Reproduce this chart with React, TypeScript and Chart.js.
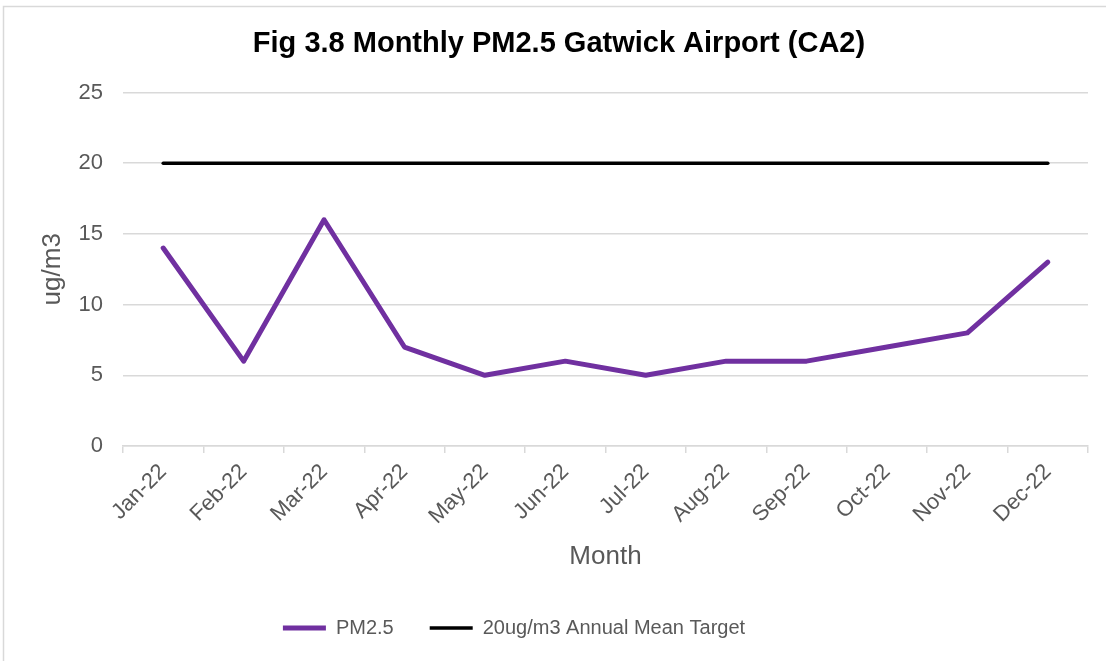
import React, { useEffect, useRef } from "react";
import { Chart, registerables } from "chart.js";

Chart.register(...registerables);

const months = ["Jan-22", "Feb-22", "Mar-22", "Apr-22", "May-22", "Jun-22", "Jul-22", "Aug-22", "Sep-22", "Oct-22", "Nov-22", "Dec-22"];
const pm25 = [14, 6, 16, 7, 5, 6, 5, 6, 6, 7, 8, 13];
const target = [20, 20, 20, 20, 20, 20, 20, 20, 20, 20, 20, 20];
const yTicks = [0, 5, 10, 15, 20, 25];

const FONT = "'Liberation Sans', Arial, sans-serif";
const GREY = "#595959";
const GRID = "#d9d9d9";

const borderPlugin = {
  id: "outerBorder",
  beforeDraw(chart: any) {
    const ctx = chart.ctx;
    ctx.save();
    ctx.fillStyle = "#ffffff";
    ctx.fillRect(0, 0, chart.width, chart.height);
    ctx.strokeStyle = GRID;
    ctx.lineWidth = 1.5;
    ctx.beginPath();
    ctx.moveTo(3.5, chart.height);
    ctx.lineTo(3.5, 6.5);
    ctx.lineTo(chart.width, 6.5);
    ctx.stroke();
    ctx.restore();
  },
};

const legendShift = {
  id: "legendShift",
  afterLayout(chart: any) {
    const lg = chart.legend;
    if (lg) {
      lg.left -= 45;
      lg.right -= 45;
    }
  },
};

export default function App() {
  const ref = useRef<HTMLCanvasElement | null>(null);
  useEffect(() => {
    if (!ref.current) return;
    const chart = new Chart(ref.current, {
      type: "line",
      data: {
        labels: months,
        datasets: [
          {
            label: "PM2.5",
            data: pm25,
            borderColor: "#7030A0",
            backgroundColor: "#7030A0",
            borderWidth: 5,
            pointRadius: 0,
            tension: 0,
            borderCapStyle: "round",
            borderJoinStyle: "round",
          },
          {
            label: "20ug/m3 Annual Mean Target",
            data: target,
            borderColor: "#000000",
            backgroundColor: "#000000",
            borderWidth: 3.5,
            pointRadius: 0,
            tension: 0,
            borderCapStyle: "round",
          },
        ],
      },
      options: {
        animation: false,
        responsive: false,
        maintainAspectRatio: false,
        layout: { padding: { left: 30, right: 18, top: 0, bottom: 13 } },
        plugins: {
          title: {
            display: true,
            text: "Fig 3.8 Monthly PM2.5 Gatwick Airport (CA2)",
            color: "#000000",
            font: { family: FONT, size: 29, weight: "bold", lineHeight: 1.2 },
            padding: { top: 27, bottom: 30.7 },
          },
          legend: {
            display: true,
            position: "bottom",
            labels: {
              usePointStyle: true,
              pointStyle: "line",
              pointStyleWidth: 43,
              padding: 36,
              color: GREY,
              font: { family: FONT, size: 20 },
            },
          },
          tooltip: { enabled: false },
        },
        scales: {
          x: {
            offset: true,
            grid: {
              display: true,
              offset: true,
              drawOnChartArea: false,
              drawTicks: true,
              tickLength: 7,
              color: GRID,
              lineWidth: 1.5,
            },
            border: { display: true, color: GRID, width: 1.5 },
            ticks: {
              color: GREY,
              font: { family: FONT, size: 22 },
              maxRotation: 45,
              minRotation: 45,
              padding: 6,
              autoSkip: false,
            },
            title: {
              display: true,
              text: "Month",
              color: GREY,
              font: { family: FONT, size: 26, lineHeight: 1.2 },
              padding: { top: 4, bottom: 9.4 },
            },
            afterFit(scale: any) {
              scale.height = 136;
            },
          },
          y: {
            min: 0,
            max: 25,
            afterBuildTicks(scale: any) {
              scale.ticks = yTicks.map((v) => ({ value: v }));
            },
            grid: { color: GRID, lineWidth: 1.5, drawTicks: false },
            border: { display: false },
            ticks: {
              color: GREY,
              font: { family: FONT, size: 22 },
              padding: 20,
            },
            title: {
              display: true,
              text: "ug/m3",
              color: GREY,
              font: { family: FONT, size: 26, lineHeight: 1.2 },
              padding: { top: 7.4, bottom: 4 },
            },
            afterFit(scale: any) {
              scale.width = 93;
            },
          },
        },
      },
      plugins: [borderPlugin, legendShift],
    } as any);
    return () => chart.destroy();
  }, []);
  return (
    <div style={{ position: "absolute", left: 0, top: 0, width: 1106, height: 661 }}>
      <canvas ref={ref} width={1106} height={661} style={{ display: "block", width: 1106, height: 661 }} />
    </div>
  );
}
